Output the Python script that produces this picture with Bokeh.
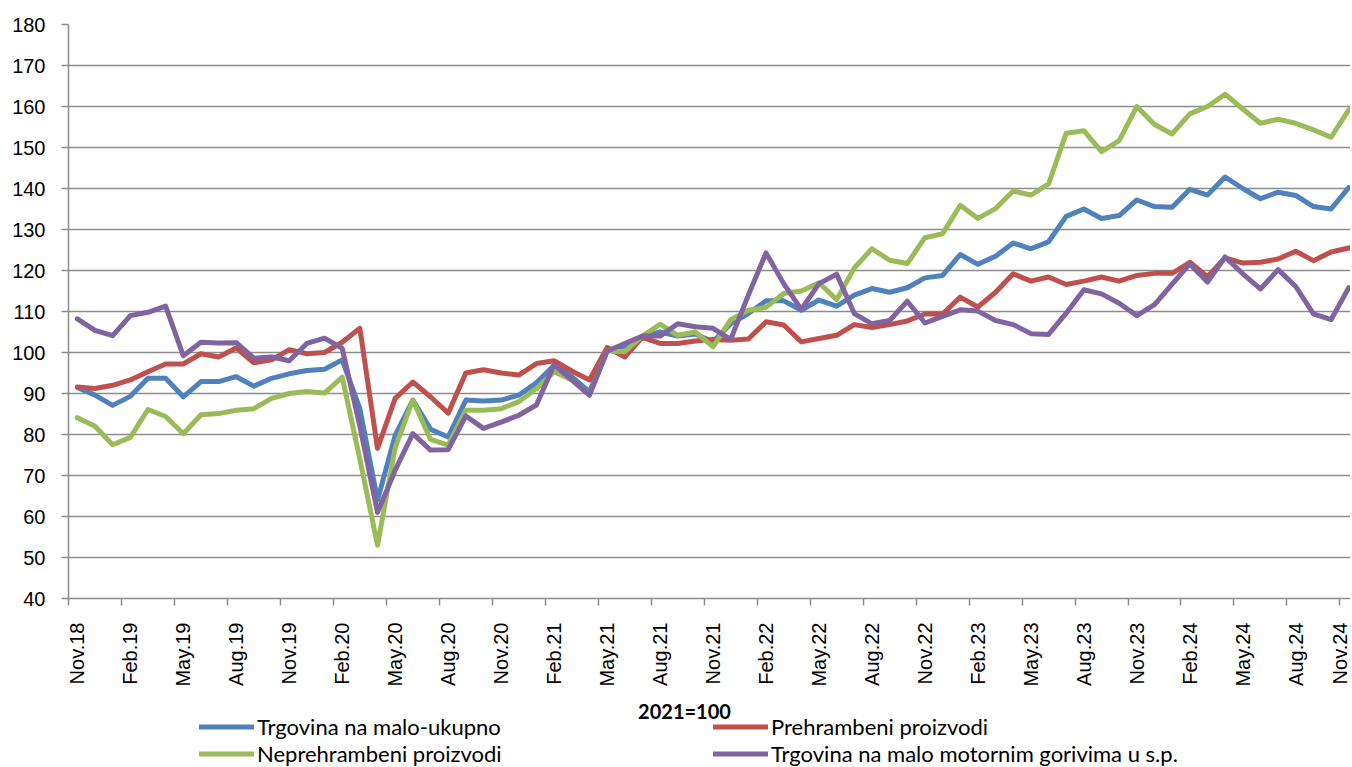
import math
from bokeh.plotting import figure
from bokeh.layouts import column
from bokeh.models import FixedTicker, Range1d, Legend, LegendItem, Label
from bokeh.embed import file_html
from bokeh.resources import INLINE

# Tick labels (every third month, Nov.18 .. Nov.24)
tick_labels = ["Nov.18", "Feb.19", "May.19", "Aug.19", "Nov.19", "Feb.20", "May.20",
               "Aug.20", "Nov.20", "Feb.21", "May.21", "Aug.21", "Nov.21", "Feb.22",
               "May.22", "Aug.22", "Nov.22", "Feb.23", "May.23", "Aug.23", "Nov.23",
               "Feb.24", "May.24", "Aug.24", "Nov.24"]

series_names = ["Trgovina na malo-ukupno", "Prehrambeni proizvodi",
                "Neprehrambeni proizvodi", "Trgovina na malo motornim gorivima u s.p."]

ukupno = [91.5, 89.6, 87.1, 89.3, 93.7, 93.7, 89.2, 92.9, 92.9, 94.1, 91.8, 93.7, 94.8,
          95.6, 95.9, 98.2, 86.3, 64.0, 79.8, 88.4, 81.3, 79.4, 88.4, 88.2, 88.4, 89.6,
          92.6, 96.9, 94.1, 90.4, 100.5, 101.5, 103.8, 105.0, 104.0, 104.5, 102.6, 107.0,
          109.5, 112.6, 112.6, 110.3, 112.8, 111.3, 114.0, 115.6, 114.7, 115.8, 118.2,
          118.8, 123.9, 121.5, 123.5, 126.7, 125.3, 127.0, 133.2, 135.0, 132.7, 133.4,
          137.2, 135.6, 135.4, 139.8, 138.4, 142.8, 140.0, 137.5, 139.1, 138.3, 135.6,
          135.0, 140.2]

prehrambeni = [91.6, 91.2, 92.0, 93.3, 95.3, 97.2, 97.2, 99.7, 98.9, 101.1, 97.5, 98.2,
               100.7, 99.7, 100.0, 102.5, 105.9, 76.6, 88.8, 92.8, 89.2, 85.2, 95.0, 95.8,
               95.0, 94.5, 97.3, 98.0, 95.5, 93.3, 101.2, 98.9, 103.7, 102.2, 102.2, 102.8,
               103.2, 103.0, 103.3, 107.5, 106.7, 102.6, 103.4, 104.2, 106.8, 106.1, 106.8,
               107.7, 109.4, 109.4, 113.5, 111.1, 114.7, 119.2, 117.4, 118.4, 116.6, 117.4,
               118.4, 117.4, 118.8, 119.3, 119.3, 122.0, 118.5, 123.1, 121.8, 122.0, 122.8,
               124.7, 122.4, 124.5, 125.5]

neprehrambeni = [84.1, 82.0, 77.5, 79.3, 86.1, 84.4, 80.2, 84.8, 85.1, 85.9, 86.3, 88.8,
                 90.0, 90.5, 90.1, 94.0, 74.0, 53.0, 76.8, 88.4, 78.8, 77.4, 85.9, 85.9,
                 86.3, 88.0, 91.2, 95.3, 93.3, 89.6, 100.4, 100.2, 104.0, 106.9, 104.2,
                 105.0, 101.4, 108.0, 110.3, 111.0, 114.4, 115.0, 117.0, 112.9, 120.6,
                 125.3, 122.5, 121.7, 128.0, 129.0, 135.9, 132.7, 135.1, 139.4, 138.4,
                 141.1, 153.5, 154.1, 149.0, 151.7, 160.0, 155.6, 153.3, 158.2, 160.0,
                 163.0, 159.4, 155.9, 156.9, 155.9, 154.3, 152.5, 159.2]

gorivo = [108.2, 105.4, 104.1, 109.0, 109.8, 111.3, 99.2, 102.5, 102.3, 102.4, 98.6, 98.9,
          98.0, 102.2, 103.5, 101.0, 82.0, 61.0, 71.3, 80.2, 76.2, 76.3, 84.5, 81.5, 83.0,
          84.7, 87.2, 97.0, 93.3, 89.6, 100.3, 102.2, 104.0, 104.0, 107.0, 106.3, 105.9,
          103.2, 114.0, 124.3, 116.8, 110.5, 116.8, 119.1, 109.5, 107.0, 107.8, 112.5,
          107.2, 108.8, 110.4, 110.1, 107.8, 106.8, 104.6, 104.4, 109.6, 115.3, 114.3,
          112.0, 109.0, 111.7, 116.7, 121.6, 117.2, 123.3, 119.2, 115.5, 120.2, 116.1,
          109.4, 108.0, 115.8]

colors = ["#4F81BD", "#C0504D", "#9BBB59", "#8064A2"]
base_label = "2021=100"

all_series = [ukupno, prehrambeni, neprehrambeni, gorivo]
n = len(ukupno)
x = list(range(n))
label_pos = list(range(0, n, 3))
boundaries = [i - 0.5 for i in label_pos]

GRAY = "#8C8C8C"
TICK_FONT = "Liberation Sans"
LEG_FONT = "Lato"

# ---------------- main chart ----------------
p = figure(frame_width=1282, frame_height=574, output_backend="svg", toolbar_location=None,
           x_range=Range1d(-0.5, 72.1), y_range=Range1d(40, 180),
           min_border_left=68, min_border_right=0, min_border_top=24, min_border_bottom=100)
p.outline_line_color = None
p.background_fill_color = "white"
p.border_fill_color = "white"

p.yaxis.ticker = FixedTicker(ticks=list(range(40, 181, 10)))
p.yaxis.axis_line_color = GRAY
p.yaxis.axis_line_width = 1.5
p.yaxis.major_tick_line_color = GRAY
p.yaxis.major_tick_line_width = 1.5
p.yaxis.major_tick_out = 7
p.yaxis.major_tick_in = 0
p.yaxis.minor_tick_line_color = None
p.yaxis.major_label_standoff = 16
p.yaxis.major_label_text_font = TICK_FONT
p.yaxis.major_label_text_font_size = "20px"
p.yaxis.major_label_text_color = "black"

# x axis: labels at category centres, tick marks at category boundaries
p.xaxis.ticker = FixedTicker(ticks=label_pos, minor_ticks=boundaries)
p.xaxis.major_label_overrides = {pos: lab for pos, lab in zip(label_pos, tick_labels)}
p.xaxis.axis_line_color = GRAY
p.xaxis.axis_line_width = 1.5
p.xaxis.major_tick_line_color = None
p.xaxis.major_tick_out = 0
p.xaxis.major_tick_in = 0
p.xaxis.minor_tick_line_color = GRAY
p.xaxis.minor_tick_line_width = 1.5
p.xaxis.minor_tick_out = 7
p.xaxis.minor_tick_in = 0
p.xaxis.major_label_orientation = math.pi / 2
p.xaxis.major_label_standoff = 17
p.xaxis.major_label_text_font = TICK_FONT
p.xaxis.major_label_text_font_size = "20px"
p.xaxis.major_label_text_color = "black"

p.xgrid.grid_line_color = None
p.ygrid.ticker = FixedTicker(ticks=list(range(50, 181, 10)))
p.ygrid.grid_line_color = GRAY
p.ygrid.grid_line_width = 1.5

for vals, col in zip(all_series, colors):
    p.line(x, vals, line_color=col, line_width=5, line_join="round", line_cap="round")

# ---------------- legend strip (frame aligned with the chart frame) ----------------
leg_h = 69
p2 = figure(width=1350, height=leg_h, output_backend="svg", toolbar_location=None,
            x_axis_location=None, y_axis_location=None,
            x_range=Range1d(0, 1), y_range=Range1d(0, 1),
            min_border_left=0, min_border_right=0, min_border_top=0, min_border_bottom=0)
p2.outline_line_color = None
p2.grid.visible = False
p2.background_fill_color = "white"
p2.border_fill_color = "white"

# legend keys: same series, lying outside this strip's ranges so only the key shows
keys = []
for vals, col in zip(all_series, colors):
    keys.append(p2.line(x, vals, line_color=col, line_width=5, line_cap="round"))


def make_legend(idx, xloc):
    leg = Legend(items=[LegendItem(label=series_names[i], renderers=[keys[i]]) for i in idx],
                 location=(xloc, 0), orientation="vertical")
    leg.glyph_width = 55
    leg.glyph_height = 27
    leg.label_height = 27
    leg.label_standoff = 3
    leg.spacing = 0
    leg.padding = 0
    leg.margin = 0
    leg.border_line_color = None
    leg.background_fill_alpha = 0
    leg.label_text_font = LEG_FONT
    leg.label_text_font_size = "22px"
    leg.label_text_color = "black"
    return leg


p2.add_layout(make_legend([0, 2], 131))
p2.add_layout(make_legend([1, 3], 645))

p2.add_layout(Label(x=616, y=57, x_units="screen", y_units="screen",
                    text=base_label, text_align="center", text_baseline="middle",
                    text_font=LEG_FONT, text_font_style="bold", text_font_size="20px",
                    text_color="black"))

layout = column(p, p2, spacing=0)
open("out.html", "w").write(file_html(layout, INLINE))
